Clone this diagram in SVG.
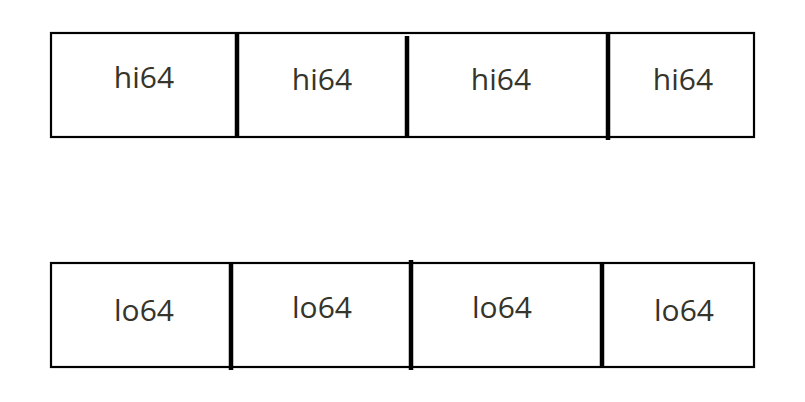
<svg xmlns="http://www.w3.org/2000/svg" width="805" height="402" viewBox="0 0 805 402">
<style>
.box{fill:#fff;stroke:#000;stroke-width:2.2}
.div{stroke:#000;stroke-width:4.5}
.t{font-family:"Open Sans","Noto Sans",sans-serif;font-size:30px;fill:#35352b;text-anchor:middle}
</style>
<rect width="805" height="402" fill="#fff"/>
<g id="hi">
<rect class="box" x="51" y="33" width="703" height="104"/>
<line class="div" x1="237" y1="33" x2="237" y2="138"/>
<line class="div" x1="407" y1="36" x2="407" y2="138"/>
<line class="div" x1="608" y1="33" x2="608" y2="140"/>
<text class="t" x="144" y="88">hi64</text>
<text class="t" x="322" y="90">hi64</text>
<text class="t" x="501" y="90">hi64</text>
<text class="t" x="683" y="90">hi64</text>
</g>
<g id="lo">
<rect class="box" x="51" y="263" width="703" height="104"/>
<line class="div" x1="231" y1="263" x2="231" y2="370"/>
<line class="div" x1="411" y1="260" x2="411" y2="370"/>
<line class="div" x1="602" y1="262" x2="602" y2="368"/>
<text class="t" x="144" y="321">lo64</text>
<text class="t" x="322" y="318">lo64</text>
<text class="t" x="502" y="318">lo64</text>
<text class="t" x="684" y="321">lo64</text>
</g>
</svg>
